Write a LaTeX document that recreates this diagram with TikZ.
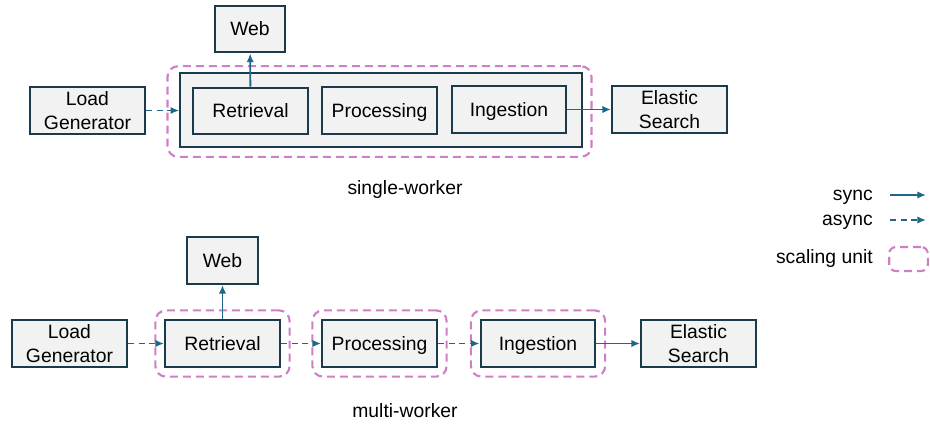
\documentclass[tikz,border=0pt]{standalone}
\usepackage{fontspec}
\setmainfont{Liberation Sans}
\usetikzlibrary{arrows.meta,fit}
\definecolor{boxline}{HTML}{1B3A4B}
\definecolor{boxfill}{HTML}{F2F2F2}
\definecolor{linkc}{HTML}{1F6788}
\definecolor{unitc}{HTML}{D07FC6}

\tikzset{
    block/.style={draw=boxline, fill=boxfill, line width=1.7pt, minimum width=86pt,
        minimum height=35pt, align=center, inner sep=1pt},
    oneline/.style={block, text height=13pt, text depth=2.6pt},
    sync/.style={draw=linkc, line width=1.4pt, -{Latex[length=6.5pt,width=5.5pt]}},
    async/.style={sync, dash pattern=on 4.5pt off 3.5pt},
    unit/.style={draw=unitc, line width=1.6pt, dash pattern=on 6pt off 3.75pt, rounded corners=8pt},
    caption/.style={inner sep=0pt}
}

\begin{document}
\begin{tikzpicture}[x=0.75pt, y=-0.75pt, font=\fontsize{14.5}{17.5}\selectfont]
        \useasboundingbox (0,0) rectangle (930,426);

        % single worker
        \node[block, minimum width=301pt, minimum height=55pt] (worker) at (381,110) {};
        \node[unit, minimum width=318pt, minimum height=68pt] (unit1) at (379.5,111.5) {};
        \node[oneline, minimum width=53pt](web1) at (250,29) {Web};
        \node[block](lg1) at (87.5,110.5) {Load\\Generator};
        \node[oneline](ret1) at (250.5,111) {Retrieval};
        \node[oneline](proc1) at (379.5,110.5) {Processing};
        \node[oneline](ing1) at (509,109.5) {Ingestion};
        \node[block](es1) at (669.5,109.5) {Elastic\\Search};
        \node[caption, anchor=base](single) at (405,194) {single-worker};
        \path
            (lg1.east) edge [async] (lg1.east -| worker.west)
            (ret1) edge [sync] (web1)
            (ing1) edge [sync] (es1)
            ;

        % multi worker
        \node[oneline, minimum width=53pt](web2) at (222.5,260.5) {Web};
        \node[block](lg2) at (69.5,343.5) {Load\\Generator};
        \node[oneline](ret2) at (222.5,343.5) {Retrieval};
        \node[oneline](proc2) at (379.5,343.5) {Processing};
        \node[oneline](ing2) at (538,343.5) {Ingestion};
        \node[block](es2) at (698.5,343.5) {Elastic\\Search};
        \node[unit, fit=(ret2), inner sep=6.5pt](unit2) {};
        \node[unit, fit=(proc2), inner sep=6.5pt](unit3) {};
        \node[unit, fit=(ing2), inner sep=6.5pt](unit4) {};
        \node[caption, anchor=base](multi) at (405,417) {multi-worker};
        \path
            (lg2) edge [async] (ret2)
            (ret2) edge [async] (proc2)
            (proc2) edge [async] (ing2)
            (ing2) edge [sync] (es2)
            (ret2) edge [sync] (web2)
            ;

        % legend
        \node[caption, anchor=base east](synclbl) at (873,200) {sync};
        \node[caption, anchor=base east](asynclbl) at (873,225) {async};
        \node[caption, anchor=base east](unitlbl) at (873,263) {scaling unit};
        \coordinate (s0) at (890,195);
        \coordinate (s1) at (926,195);
        \coordinate (a0) at (890,220);
        \coordinate (a1) at (926,220);
        \draw[sync] (s0) -- (s1);
        \draw[async] (a0) -- (a1);
        \node[unit, rounded corners=5pt, minimum width=29pt, minimum height=18pt](unitkey) at (908.5,259) {};
    \end{tikzpicture}
\end{document}
